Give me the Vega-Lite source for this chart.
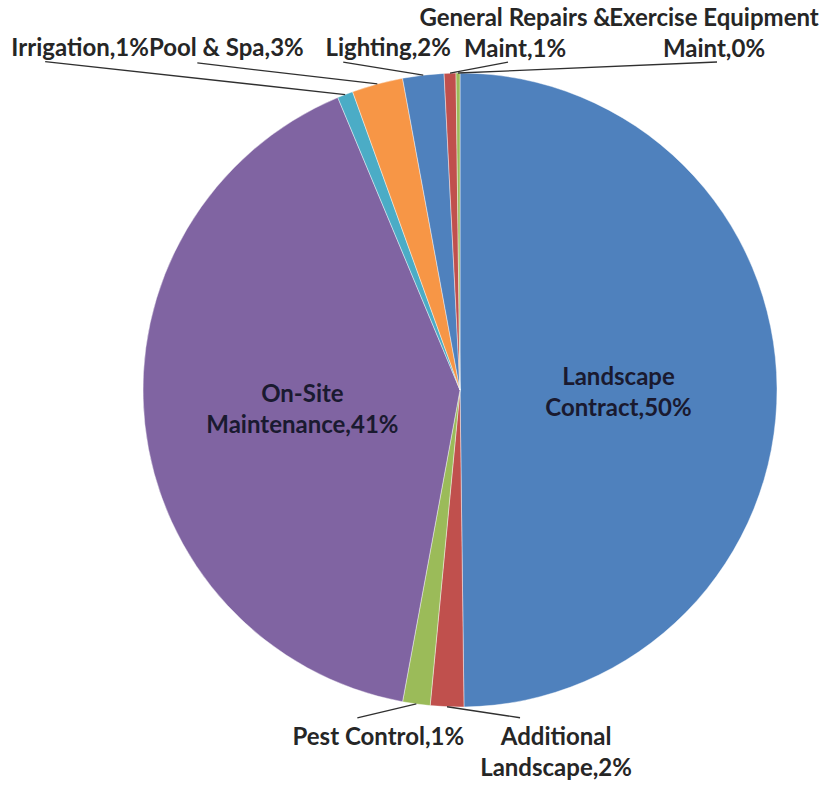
{
  "$schema": "https://vega.github.io/schema/vega-lite/v6.json",
  "width": 740,
  "height": 780,
  "padding": {"left": 90, "top": 0, "right": 0, "bottom": 5},
  "autosize": {"type": "none"},
  "background": "white",
  "config": {"view": {"stroke": null}},
  "data": {
    "values": [
      {"idx": 1, "category": "Landscape\nContract", "value": 49.8},
      {"idx": 2, "category": "Additional\nLandscape", "value": 1.7},
      {"idx": 3, "category": "Pest Control", "value": 1.4},
      {"idx": 4, "category": "On-Site\nMaintenance", "value": 40.8},
      {"idx": 5, "category": "Irrigation", "value": 0.8},
      {"idx": 6, "category": "Pool & Spa", "value": 2.6},
      {"idx": 7, "category": "Lighting", "value": 2.1},
      {"idx": 8, "category": "General Repairs &\nMaint", "value": 0.6},
      {"idx": 9, "category": "Exercise Equipment\nMaint", "value": 0.2}
    ]
  },
  "transform": [
    {"window": [{"op": "sum", "field": "value", "as": "cum"}], "sort": [{"field": "idx"}], "frame": [null, 0]},
    {"joinaggregate": [{"op": "sum", "field": "value", "as": "total"}]},
    {"calculate": "(datum.cum - datum.value / 2) / datum.total * 2 * PI", "as": "mid"},
    {"calculate": "datum.category + ',' + format(datum.value / datum.total, '.0%')", "as": "label"},
    {"calculate": "15.5 * (length(split(datum.label, '\\n')) - 1)", "as": "shift"},
    {"calculate": "317 * sin(datum.mid)", "as": "ex"},
    {"calculate": "317 * cos(datum.mid)", "as": "ey"},
    {"calculate": "[[0,0,0,0],[0,0,0,0],[109,-46,73,-11],[-38,-33,-59,-14],[0,0,0,0],[-265,47,-300,33],[-151,36,-180,21],[-35,27,-80,13],[65,40,58,11],[256,40,259,11]][datum.idx]", "as": "off"}
  ],
  "layer": [
    {
      "mark": {"type": "arc", "outerRadius": 317, "stroke": "#ffffff", "strokeWidth": 0.7, "strokeOpacity": 0.6},
      "encoding": {
        "theta": {"field": "value", "type": "quantitative", "stack": true},
        "order": {"field": "idx", "type": "quantitative"},
        "color": {
          "field": "category",
          "type": "nominal",
          "scale": {
            "domain": ["Landscape\nContract", "Additional\nLandscape", "Pest Control", "On-Site\nMaintenance", "Irrigation", "Pool & Spa", "Lighting", "General Repairs &\nMaint", "Exercise Equipment\nMaint"],
            "range": ["#4F81BD", "#C0504D", "#9BBB59", "#8064A2", "#4BACC6", "#F79646", "#4F81BD", "#C0504D", "#9BBB59"]
          },
          "legend": null
        }
      }
    },
    {
      "transform": [
        {"filter": "datum.value / datum.total >= 0.1"},
        {"calculate": "0.5 * datum.ex", "as": "lx"},
        {"calculate": "0.5 * datum.ey + datum.shift - 4", "as": "ly"}
      ],
      "mark": {"type": "text", "font": "Lato", "fontWeight": "bold", "fontSize": 24, "lineHeight": 31, "lineBreak": "\n", "align": "center", "baseline": "middle", "color": "#1a1a30"},
      "encoding": {
        "x": {"field": "lx", "type": "quantitative", "scale": {"domain": [-370, 370], "nice": false, "zero": false}, "axis": null},
        "y": {"field": "ly", "type": "quantitative", "scale": {"domain": [-390, 390], "nice": false, "zero": false}, "axis": null},
        "text": {"field": "label"}
      }
    },
    {
      "transform": [
        {"filter": "datum.value / datum.total < 0.1"},
        {"calculate": "datum.ex + datum.off[2]", "as": "qx"},
        {"calculate": "datum.ey + datum.off[3]", "as": "qy"}
      ],
      "mark": {"type": "rule", "color": "#303030", "strokeWidth": 1.3},
      "encoding": {
        "x": {"field": "ex", "type": "quantitative", "scale": {"domain": [-370, 370], "nice": false, "zero": false}, "axis": null},
        "y": {"field": "ey", "type": "quantitative", "scale": {"domain": [-390, 390], "nice": false, "zero": false}, "axis": null},
        "x2": {"field": "qx"},
        "y2": {"field": "qy"}
      }
    },
    {
      "transform": [
        {"filter": "datum.value / datum.total < 0.1"},
        {"calculate": "datum.ex + datum.off[0]", "as": "lx"},
        {"calculate": "datum.ey + datum.off[1] + datum.shift - 1", "as": "ly"}
      ],
      "mark": {"type": "text", "font": "Lato", "fontWeight": "bold", "fontSize": 24, "lineHeight": 31, "lineBreak": "\n", "align": "center", "baseline": "middle", "color": "#262626"},
      "encoding": {
        "x": {"field": "lx", "type": "quantitative", "scale": {"domain": [-370, 370], "nice": false, "zero": false}, "axis": null},
        "y": {"field": "ly", "type": "quantitative", "scale": {"domain": [-390, 390], "nice": false, "zero": false}, "axis": null},
        "text": {"field": "label"}
      }
    }
  ]
}
